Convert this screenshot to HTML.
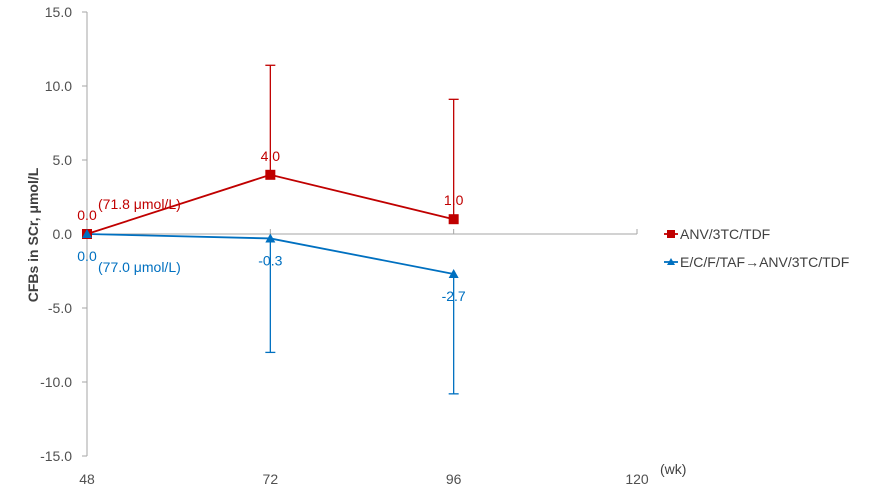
<!DOCTYPE html>
<html><head><meta charset="utf-8"><style>
body{margin:0;background:#fff;font-family:"Liberation Sans","Noto Sans CJK SC",sans-serif}
svg text{font-family:"Liberation Sans","Noto Sans CJK SC",sans-serif}
</style></head><body>
<svg id="c" width="875" height="492" xmlns="http://www.w3.org/2000/svg"></svg>
<script>
const weeks=[48,72,96];
const xTicks=[48,72,96,120];
const yTicks=[15,10,5,0,-5,-10,-15];
const redVals=[0.0,4.0,1.0];
const redErrUp=[null,11.4,9.1];
const blueVals=[0.0,-0.3,-2.7];
const blueErrDown=[null,-8.0,-10.8];
const redName="ANV/3TC/TDF";
const blueName="E/C/F/TAF→ANV/3TC/TDF";
const RED="#c00000",BLUE="#0070c0";
const svg=document.getElementById('c');
const NS="http://www.w3.org/2000/svg";
const X=v=>87+(v-48)*(550/72);
const Y=v=>234-v*14.8;
function el(t,a,name,txt){const e=document.createElementNS(NS,t);for(const k in a)e.setAttribute(k,a[k]);


if(txt!==undefined)e.textContent=txt;svg.appendChild(e);return e;}
el('line',{x1:87,y1:Y(15),x2:87,y2:Y(-15),stroke:'#a6a6a6','stroke-width':1},'y-axis');
yTicks.forEach(t=>{el('line',{x1:82,y1:Y(t),x2:87,y2:Y(t),stroke:'#a6a6a6'},'y-tick');
el('text',{x:72,y:Y(t)+5,'text-anchor':'end','font-size':14,fill:'#505050'},'y-tick-label',t.toFixed(1));});
el('line',{x1:87,y1:Y(0),x2:X(120),y2:Y(0),stroke:'#a6a6a6'},'x-axis');
xTicks.forEach(t=>{el('line',{x1:X(t),y1:Y(0),x2:X(t),y2:Y(0)-5,stroke:'#a6a6a6'},'x-tick');
el('text',{x:X(t),y:484,'text-anchor':'middle','font-size':14,fill:'#505050'},'x-tick-label',String(t));});
el('text',{x:660,y:474,'font-size':14,fill:'#404040'},'x-unit-label','(wk)');
el('text',{x:0,y:0,transform:'translate(38,235) rotate(-90)','text-anchor':'middle','font-size':14,'font-weight':'bold',fill:'#404040'},'y-axis-title','CFBs in SCr, μmol/L');
weeks.forEach((w,i)=>{if(redErrUp[i]!==null){el('line',{x1:X(w),y1:Y(redVals[i]),x2:X(w),y2:Y(redErrUp[i]),stroke:RED,'stroke-width':1.3},'red-error-bar');
el('line',{x1:X(w)-5,y1:Y(redErrUp[i]),x2:X(w)+5,y2:Y(redErrUp[i]),stroke:RED,'stroke-width':1.3},'red-error-cap');}
if(blueErrDown[i]!==null){el('line',{x1:X(w),y1:Y(blueVals[i]),x2:X(w),y2:Y(blueErrDown[i]),stroke:BLUE,'stroke-width':1.3},'blue-error-bar');
el('line',{x1:X(w)-5,y1:Y(blueErrDown[i]),x2:X(w)+5,y2:Y(blueErrDown[i]),stroke:BLUE,'stroke-width':1.3},'blue-error-cap');}});
el('polyline',{points:weeks.map((w,i)=>X(w)+','+Y(redVals[i])).join(' '),fill:'none',stroke:RED,'stroke-width':1.8},'red-line');
el('polyline',{points:weeks.map((w,i)=>X(w)+','+Y(blueVals[i])).join(' '),fill:'none',stroke:BLUE,'stroke-width':1.8},'blue-line');
weeks.forEach((w,i)=>{el('rect',{x:X(w)-5,y:Y(redVals[i])-5,width:10,height:10,fill:RED},'red-marker');
el('text',{x:X(w),y:Y(redVals[i])-14,'text-anchor':'middle','font-size':14,fill:RED},'red-value-label',redVals[i].toFixed(1));
const bx=X(w),by=Y(blueVals[i]);
el('polygon',{points:`${bx-5},${by+4} ${bx+5},${by+4} ${bx},${by-5}`,fill:BLUE},'blue-marker');
el('text',{x:bx,y:by+27,'text-anchor':'middle','font-size':14,fill:BLUE},'blue-value-label',blueVals[i].toFixed(1));});
el('text',{x:98,y:209,'font-size':14,fill:RED},'red-baseline-note','(71.8 μmol/L)');
el('text',{x:98,y:272,'font-size':14,fill:BLUE},'blue-baseline-note','(77.0 μmol/L)');
el('line',{x1:664,y1:234,x2:678,y2:234,stroke:RED,'stroke-width':1.8},'legend-red-line');
el('rect',{x:667,y:230,width:8,height:8,fill:RED},'legend-red-marker');
el('text',{x:680,y:239,'font-size':14,fill:'#404040'},'legend-red-label',redName);
el('line',{x1:664,y1:262,x2:678,y2:262,stroke:BLUE,'stroke-width':1.8},'legend-blue-line');
el('polygon',{points:'667,265 675,265 671,258',fill:BLUE},'legend-blue-marker');
el('text',{x:680,y:267,'font-size':14,fill:'#404040'},'legend-blue-label',blueName);
</script>
</body></html>
